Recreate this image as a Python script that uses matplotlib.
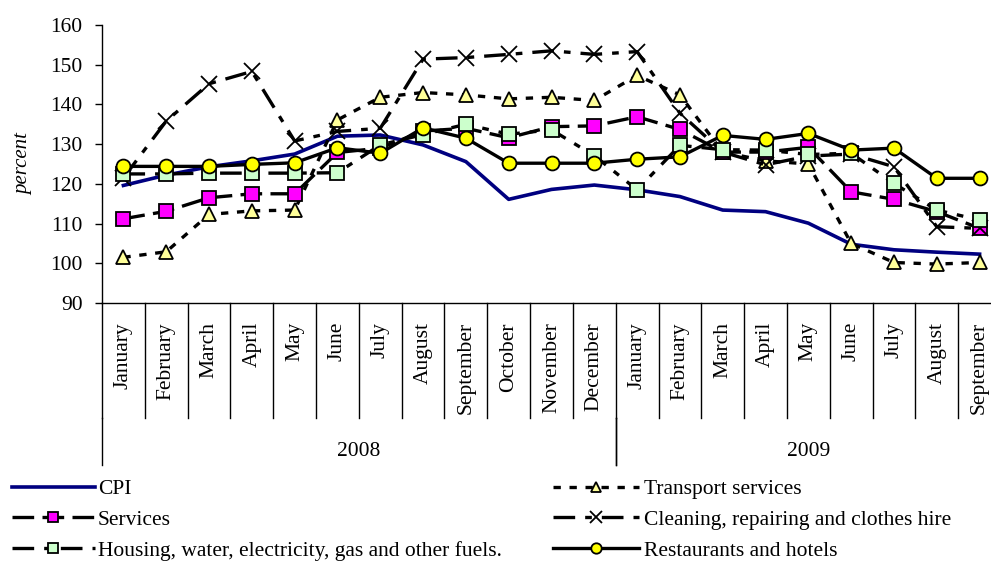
import matplotlib
matplotlib.use('Agg')
import matplotlib.pyplot as plt

plt.rcParams['font.family'] = ['Liberation Serif', 'DejaVu Serif']

months = ['January', 'February', 'March', 'April', 'May', 'June', 'July',
          'August', 'September', 'October', 'November', 'December',
          'January', 'February', 'March', 'April', 'May', 'June', 'July',
          'August', 'September']
years = ['2008', '2009']
year_len = [12, 9]

cpi = [119.6, 122.2, 124.3, 125.8, 127.5, 132.0, 132.3, 129.8, 125.6, 116.1, 118.6,
       119.7, 118.5, 116.8, 113.4, 113.0, 110.1, 104.8, 103.4, 102.8, 102.3]
transport = [101.5, 102.9, 112.3, 113.2, 113.4, 136.1, 141.8, 143.0, 142.4, 141.4, 141.8,
             141.0, 147.3, 142.4, 128.0, 125.8, 125.0, 105.0, 100.2, 99.8, 100.2]
services = [111.2, 113.1, 116.5, 117.5, 117.5, 127.9, 129.0, 133.3, 134.0, 131.6, 134.4,
            134.6, 136.9, 133.7, 128.0, 128.0, 129.2, 118.0, 116.1, 113.0, 108.8]
cleaning = [121.5, 135.8, 145.2, 148.3, 130.8, 133.2, 134.0, 151.4, 151.8, 152.6, 153.5,
            152.6, 153.3, 137.8, 128.0, 124.8, 127.0, 127.5, 124.3, 109.2, 108.8]
housing = [122.5, 122.5, 122.7, 122.7, 122.7, 122.8, 129.8, 132.4, 135.0, 132.5, 133.6,
           127.1, 118.5, 129.7, 128.6, 128.5, 127.4, 127.7, 120.1, 113.4, 110.9]
restaurants = [124.4, 124.4, 124.4, 124.9, 125.3, 129.1, 127.7, 134.1, 131.5, 125.2, 125.2,
               125.2, 126.2, 126.8, 132.2, 131.2, 132.7, 128.5, 129.0, 121.4, 121.4]

FS = 15.5
x = list(range(len(months)))

fig = plt.figure(figsize=(9.91, 5.61), dpi=100)
ax = fig.add_axes([102 / 991, 1 - 303 / 561, 899 / 991, 278 / 561])

lw = 2.4
ms = 9.5
l_cpi, = ax.plot(x, cpi, color='#000080', lw=2.6, label='CPI', zorder=2)
l_tr, = ax.plot(x, transport, color='black', lw=lw, dashes=(2.2, 2.6),
                marker='^', ms=ms + 1, mfc='#FFFF99', mec='black', mew=1.3,
                label='Transport services', zorder=3)
l_sv, = ax.plot(x, services, color='black', lw=lw, dashes=(6.5, 2.5),
                marker='s', ms=ms, mfc='#FF00FF', mec='black', mew=1.3,
                label='Services', zorder=4)
l_cl, = ax.plot(x, cleaning, color='black', lw=lw, dashes=(6.5, 3, 2, 3),
                marker='x', ms=ms + 2, mec='black', mew=1.3,
                label='Cleaning, repairing and clothes hire', zorder=5)
l_hs, = ax.plot(x, housing, color='black', lw=lw, dashes=(6.5, 3, 2, 3),
                marker='s', ms=ms, mfc='#CCFFCC', mec='black', mew=1.3,
                label='Housing, water, electricity, gas and other fuels.', zorder=6)
l_rs, = ax.plot(x, restaurants, color='black', lw=lw,
                marker='o', ms=ms + 0.5, mfc='#FFFF00', mec='black', mew=1.3,
                label='Restaurants and hotels', zorder=7)

ax.set_xlim(-0.5, len(months) - 0.5)
ax.set_ylim(90, 160)
ax.set_yticks(range(90, 161, 10))
ax.tick_params(axis='y', direction='out', length=5, width=1, pad=9, labelsize=FS)
ax.set_xticks([])
for s in ['top', 'right']:
    ax.spines[s].set_visible(False)
ax.spines['left'].set_linewidth(1)
ax.spines['bottom'].set_linewidth(1)
ax.set_ylabel('percent', fontsize=FS - 0.5, style='italic', labelpad=12)

# two-level category axis: month cells and year groups
trans = ax.get_xaxis_transform()
month_bottom = -115 / 278
year_bottom = -162 / 278
for k in range(len(months) + 1):
    ax.plot([k - 0.5, k - 0.5], [0, month_bottom], transform=trans, color='black',
            lw=1, clip_on=False)
start = 0
for yr, n in zip(years, year_len):
    for edge in (start, start + n):
        ax.plot([edge - 0.5, edge - 0.5], [month_bottom, year_bottom], transform=trans,
                color='black', lw=1, clip_on=False)
    ax.text(start + (n - 1) / 2, -149 / 278, yr, transform=trans, ha='center',
            va='center', fontsize=FS)
    start += n
for i, m in enumerate(months):
    ax.text(i, -19 / 278, m, transform=trans, rotation=90, ha='center', va='top',
            fontsize=FS)

leg_kw = dict(frameon=False, fontsize=FS, borderpad=0, borderaxespad=0,
              labelspacing=0.5, markerscale=0.75)
fig.legend(handles=[l_cpi, l_sv, l_hs], loc='upper left',
           bbox_to_anchor=(12 / 991, 1 - 479 / 561), handlelength=3.85,
           handletextpad=0.15, **leg_kw)
fig.legend(handles=[l_tr, l_cl, l_rs], loc='upper left',
           bbox_to_anchor=(553 / 991, 1 - 479 / 561), handlelength=4.0,
           handletextpad=0.25, **leg_kw)

fig.savefig('out.png', dpi=100)
